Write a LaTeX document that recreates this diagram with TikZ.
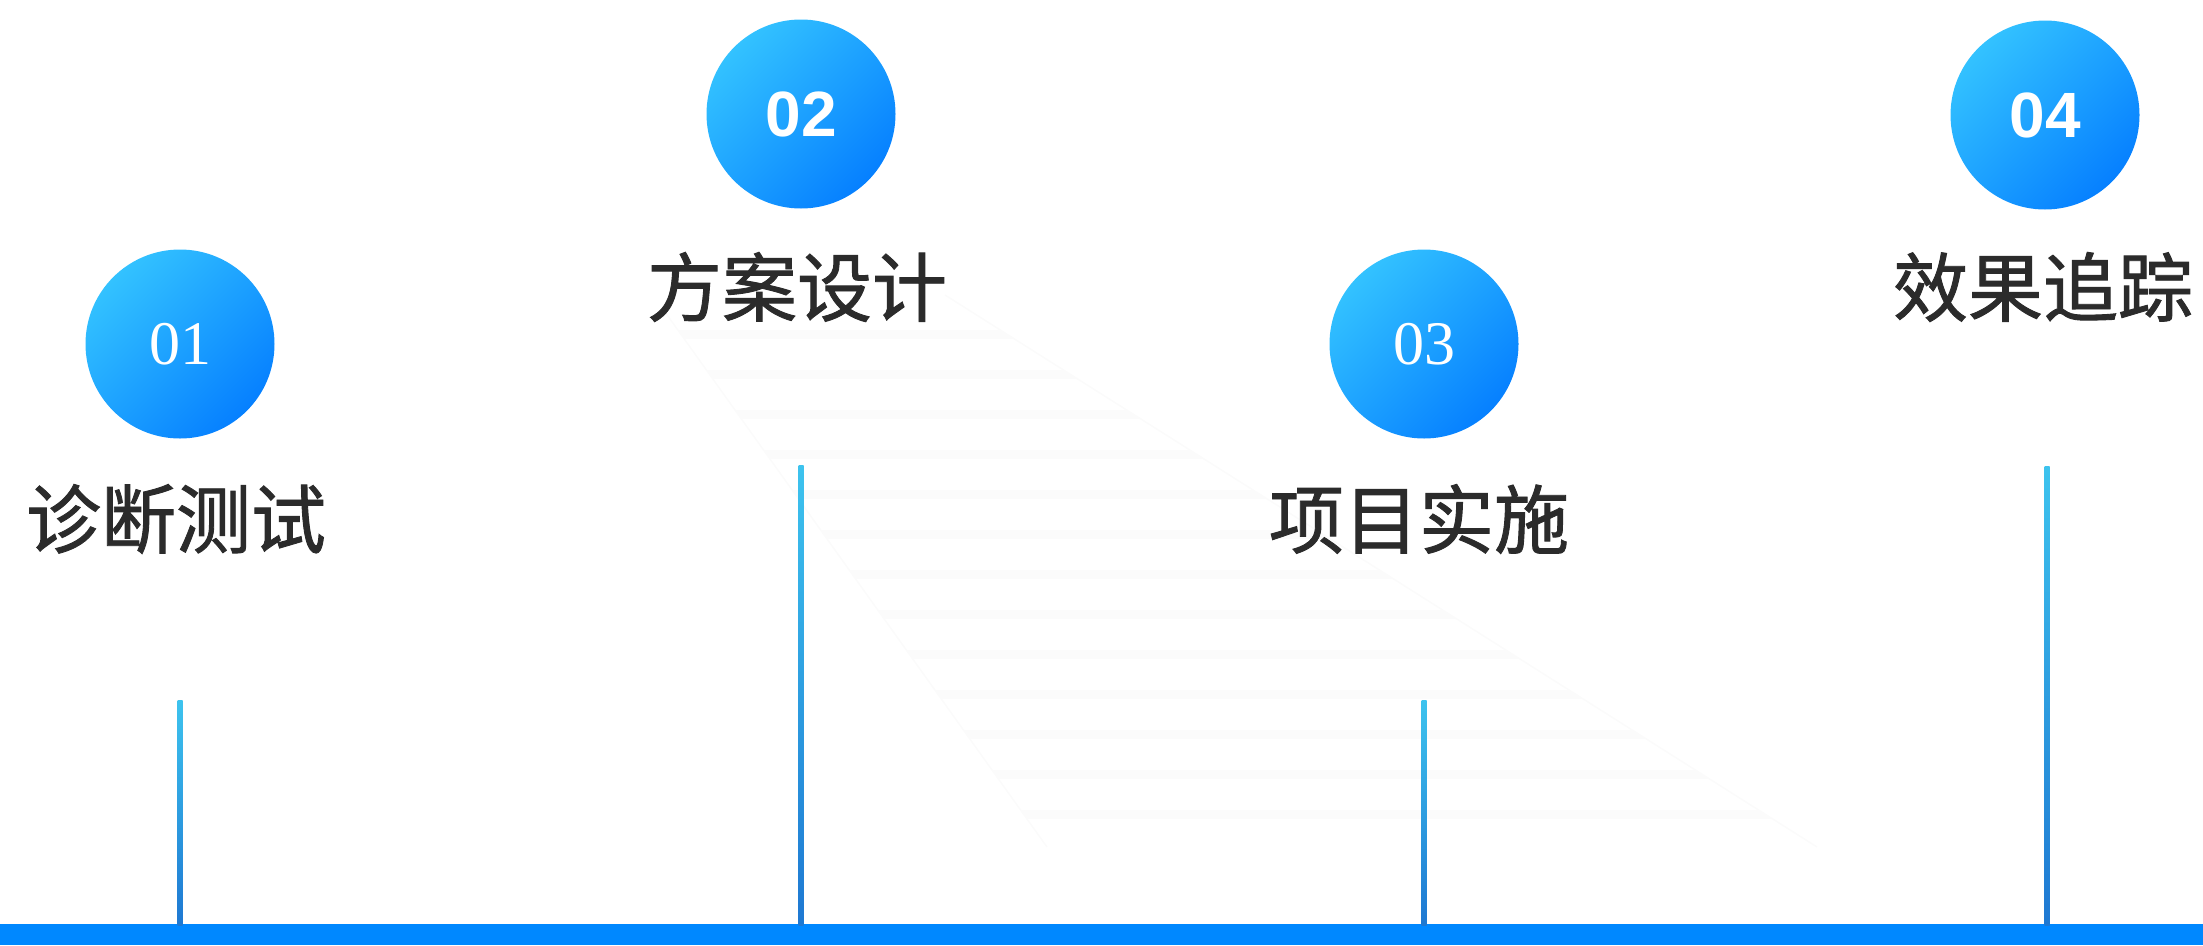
\documentclass[tikz,border=0pt]{standalone}
\usepackage{fontspec}
\newfontfamily\cjk{Noto Sans CJK SC}[FakeBold=1.2]
\newfontfamily\numserif{Liberation Serif}
\newfontfamily\numsans{Liberation Sans}
\definecolor{circA}{HTML}{33C2FF}
\definecolor{circB}{HTML}{0680FF}
\definecolor{barblue}{HTML}{0088FF}
\definecolor{lineA}{HTML}{3DC3EE}
\definecolor{lineB}{HTML}{1E78D2}
\definecolor{txt}{HTML}{2B2B2B}
\definecolor{faint}{HTML}{FBFBFB}
\begin{document}
\begin{tikzpicture}[x=1pt,y=-1pt,
  stepcircle/.style={circle, minimum size=189pt, inner sep=0pt, shading=axis,
     top color=circA, bottom color=circB, shading angle=45, text=white},
  serifnum/.style={font=\numserif\fontsize{62}{62}\selectfont},
  sansnum/.style={font=\numsans\bfseries\fontsize{64}{64}\selectfont},
  steplabel/.style={font=\cjk\fontsize{75}{80}\selectfont, text=txt, inner sep=0pt},
  stem/.style={top color=lineA, bottom color=lineB}]
\useasboundingbox (0,0) rectangle (2203,945);

% faint striped background band
\begin{scope}
  \clip (665,312) -- (945,295) -- (1817,847) -- (1047,847) -- cycle;
  \foreach \yy in {330,370,410,450,490,530,570,610,650,690,730,770,810} {
    \fill[faint] (600,\yy) rectangle (1900,\yy+9);
  }
\end{scope}
\draw[faint, line width=1.5pt] (665,312) -- (1047,847);
\draw[faint, line width=1.5pt] (945,295) -- (1817,847);

% bottom bar
\fill[barblue] (0,924) rectangle (2203,945);

% stems
\coordinate (s1t) at (177.5,700); \coordinate (s1b) at (182.5,925);
\coordinate (s2t) at (798.5,465); \coordinate (s2b) at (803.5,925);
\coordinate (s3t) at (1421.5,700); \coordinate (s3b) at (1426.5,925);
\coordinate (s4t) at (2044.5,466); \coordinate (s4b) at (2049.5,925);
\shade[stem] (s1t) rectangle (s1b);
\shade[stem] (s2t) rectangle (s2b);
\shade[stem] (s3t) rectangle (s3b);
\shade[stem] (s4t) rectangle (s4b);

% circles
\node[stepcircle, serifnum] (c1) at (180,344) {01};
\node[stepcircle, sansnum]  (c2) at (801,114) {02};
\node[stepcircle, serifnum] (c3) at (1424,344) {03};
\node[stepcircle, sansnum]  (c4) at (2045,115) {04};

% labels
\node[steplabel] (t1) at (176,519) {诊断测试};
\node[steplabel] (t2) at (797,287) {方案设计};
\node[steplabel] (t3) at (1419,519) {项目实施};
\node[steplabel] (t4) at (2043,287) {效果追踪};
\end{tikzpicture}
\end{document}
